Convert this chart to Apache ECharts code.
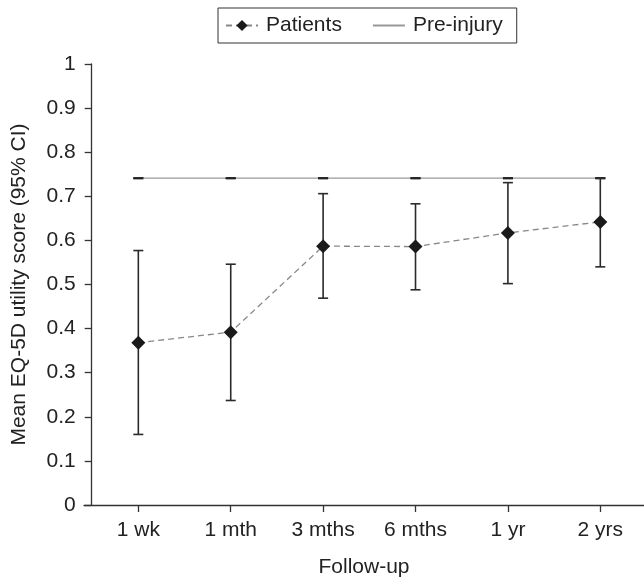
<!DOCTYPE html>
<html>
<head>
<meta charset="utf-8">
<script src="https://cdn.jsdelivr.net/npm/echarts@6/dist/echarts.min.js"></script>
<style>
html,body{margin:0;padding:0;background:#fff;}
#chart{width:644px;height:582px;}
</style>
</head>
<body>
<div id="chart"></div>
<script>
// ---- data ----
const categories = ['1 wk', '1 mth', '3 mths', '6 mths', '1 yr', '2 yrs'];
const patientsMean = [0.368, 0.392, 0.587, 0.586, 0.617, 0.642];
const patientsLower = [0.160, 0.237, 0.469, 0.488, 0.502, 0.540];
const patientsUpper = [0.577, 0.546, 0.706, 0.683, 0.731, 0.741];
const preInjury = [0.741, 0.741, 0.741, 0.741, 0.741, 0.741];
const yTicks = [0, 0.1, 0.2, 0.3, 0.4, 0.5, 0.6, 0.7, 0.8, 0.9, 1];

const FONT = '"Liberation Sans", Arial, Helvetica, sans-serif';
const idx = categories.map((c, i) => i);

function errorBar(color, width) {
  return function (params, api) {
    const x = api.value(0);
    const lo = api.coord([x, api.value(1)]);
    const hi = api.coord([x, api.value(2)]);
    const hw = 5;
    const style = { stroke: color, lineWidth: width };
    return {
      type: 'group',
      children: [
        { type: 'line', shape: { x1: lo[0], y1: lo[1], x2: hi[0], y2: hi[1] }, style },
        { type: 'line', shape: { x1: hi[0] - hw, y1: hi[1], x2: hi[0] + hw, y2: hi[1] }, style },
        { type: 'line', shape: { x1: lo[0] - hw, y1: lo[1], x2: lo[0] + hw, y2: lo[1] }, style }
      ]
    };
  };
}

const chart = echarts.init(document.getElementById('chart'), null, { renderer: 'canvas' });
chart.setOption({
  animation: false,
  backgroundColor: '#fff',
  textStyle: { fontFamily: FONT },
  legend: {
    left: 218, top: 8,
    data: [
      { name: 'Patients' },
      { name: 'Pre-injury', itemStyle: { opacity: 0 } }
    ],
    borderColor: '#333', borderWidth: 1,
    padding: [7, 14, 7, 7],
    itemWidth: 32, itemHeight: 14, itemGap: 30,
    textStyle: { fontFamily: FONT, fontSize: 21, color: '#222', padding: [0, 0, 0, 3] }
  },
  grid: { left: 84, right: 0, top: 64, bottom: 77, containLabel: false, outerBoundsMode: 'none' },
  xAxis: {
    type: 'value',
    min: -0.588, max: 5.473,
    name: 'Follow-up', nameLocation: 'middle', nameGap: 52,
    nameTextStyle: { fontFamily: FONT, fontSize: 21, color: '#222' },
    axisLine: { show: true, onZero: false, lineStyle: { color: '#333', width: 1.3 } },
    axisTick: { show: true, length: 7, customValues: idx, lineStyle: { color: '#333', width: 1.3 } },
    axisLabel: {
      customValues: idx, margin: 15,
      fontFamily: FONT, fontSize: 21, color: '#222',
      formatter: v => categories[Math.round(v)]
    },
    splitLine: { show: false }
  },
  yAxis: {
    type: 'value', min: 0, max: 1, interval: 0.1,
    offset: -7.7,
    name: 'Mean EQ-5D utility score (95% CI)', nameLocation: 'middle', nameGap: 62,
    nameTextStyle: { fontFamily: FONT, fontSize: 21, color: '#222' },
    axisLine: { show: true, onZero: false, lineStyle: { color: '#333', width: 1.3 } },
    axisTick: { show: true, length: 7, lineStyle: { color: '#333', width: 1.3 } },
    axisLabel: {
      margin: 16, fontFamily: FONT, fontSize: 21, color: '#222',
      formatter: v => {
        const t = yTicks.find(a => Math.abs(a - v) < 1e-6);
        return t === 0 || t === 1 ? String(t) : t.toFixed(1);
      }
    },
    splitLine: { show: false }
  },
  series: [
    {
      name: 'Pre-injury', type: 'line', z: 1,
      data: preInjury.map((v, i) => [i, v]),
      symbol: 'none',
      lineStyle: { color: '#999', width: 1.3 },
      itemStyle: { color: '#999' }
    },
    {
      name: 'Pre-injury CI', type: 'custom', z: 2,
      data: preInjury.map((v, i) => [i, v, v]),
      renderItem: errorBar('#222', 2),
      silent: true
    },
    {
      name: 'Patients CI', type: 'custom', z: 3,
      data: idx.map(i => [i, patientsLower[i], patientsUpper[i]]),
      renderItem: errorBar('#2a2a2a', 1.6),
      silent: true
    },
    {
      name: 'Patients', type: 'line', z: 5,
      data: patientsMean.map((v, i) => [i, v]),
      symbol: 'diamond', symbolSize: 14,
      lineStyle: { color: '#888', width: 1.3, type: [6, 4] },
      itemStyle: { color: '#1a1a1a' }
    }
  ]
});
</script>
</body>
</html>
